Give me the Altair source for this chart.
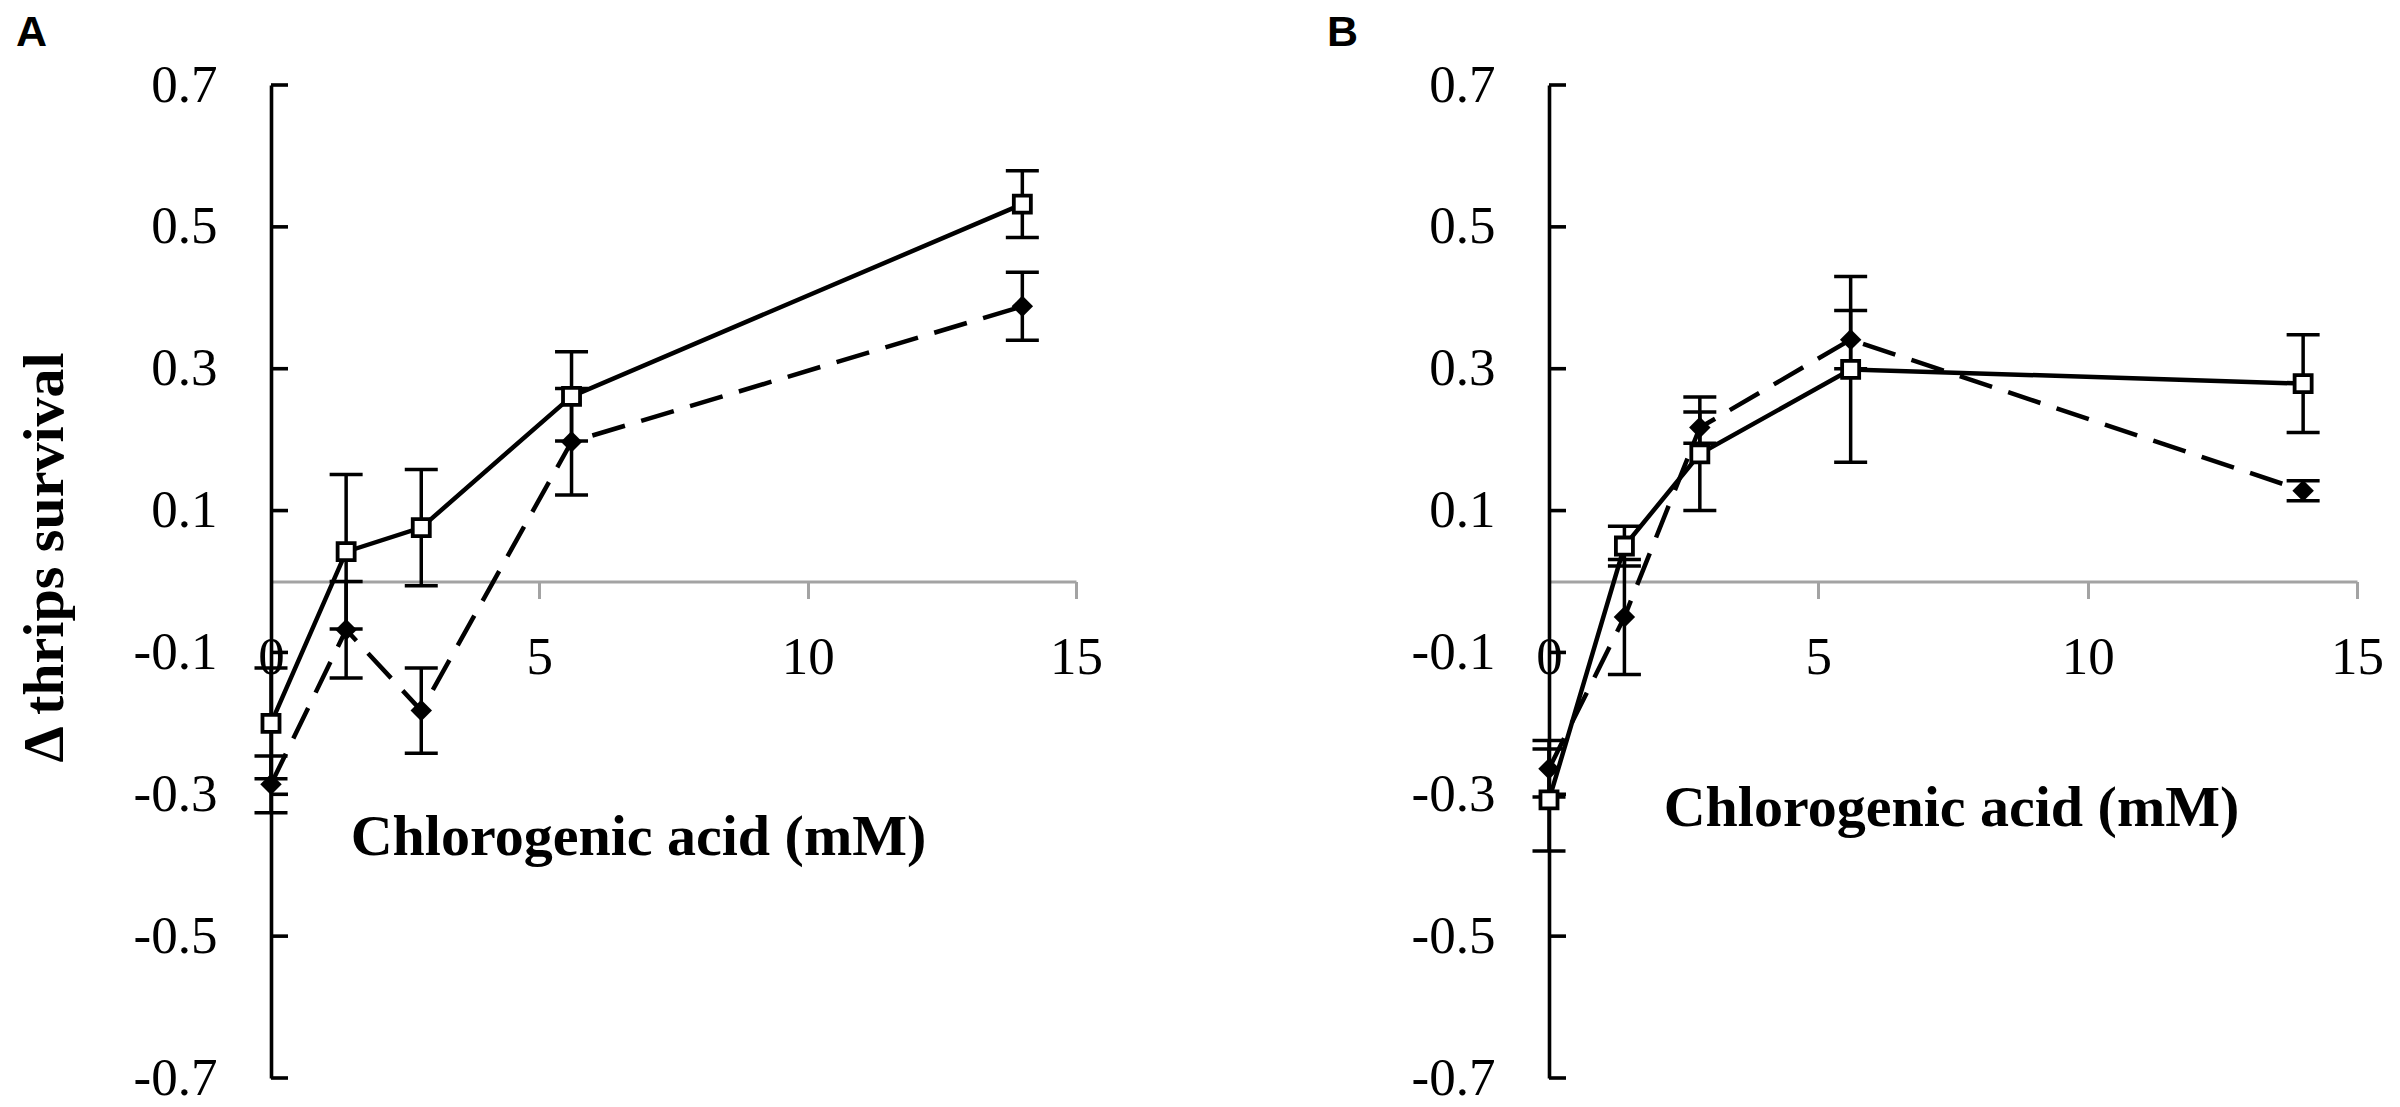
import altair as alt
import pandas as pd

# ---- data ----
conc = [0, 1.4, 2.8, 5.6, 14]

a_open = [-0.200, 0.042, 0.076, 0.261, 0.532]
a_open_err = [0.078, 0.109, 0.082, 0.063, 0.047]
a_filled = [-0.286, -0.068, -0.182, 0.197, 0.388]
a_filled_err = [0.040, 0.068, 0.060, 0.075, 0.048]

b_open = [-0.308, 0.050, 0.180, 0.299, 0.279]
b_open_err = [0.072, 0.028, 0.080, 0.131, 0.069]
b_filled = [-0.264, -0.050, 0.217, 0.341, 0.128]
b_filled_err = [0.040, 0.081, 0.022, 0.041, 0.014]

y_ticks = [-0.7, -0.5, -0.3, -0.1, 0.1, 0.3, 0.5, 0.7]
x_ticks = [0, 5, 10, 15]
x_title = "Chlorogenic acid (mM)"
y_title = "\u0394 thrips survival"
panel_labels = ["A", "B"]

SERIF = "Liberation Serif"
SANS = "Liberation Sans"
H = 993
GRAY = "#a3a3a3"


def make_df(ov, oe, fv, fe):
    rows = []
    for x, v, e in zip(conc, ov, oe):
        rows.append({"conc": x, "value": v, "lo": v - e, "hi": v + e, "series": "open"})
    for x, v, e in zip(conc, fv, fe):
        rows.append({"conc": x, "value": v, "lo": v - e, "hi": v + e, "series": "filled"})
    return pd.DataFrame(rows)


def panel(df, width, label, label_dx, xt_x, xt_y, ytitle):
    yscale = alt.Scale(domain=[-0.7, 0.7], nice=False, zero=False)
    xscale = alt.Scale(domain=[0, 15], nice=False, zero=False)
    yaxis_kw = dict(
        values=y_ticks, ticks=False, grid=False,
        domainColor="black", domainWidth=3.6,
        labelFont=SERIF, labelFontSize=53, labelColor="black",
        labelPadding=54, labelFlush=False, labelOverlap=False,
        labelExpr="(datum.value < 0 ? '-' : '') + format(abs(datum.value), '.1f')",
    )
    if ytitle:
        yaxis_kw.update(
            title=y_title, titleFont=SERIF, titleFontSize=58, titleFontWeight="bold",
            titleColor="black", titleX=-226, titleY=472, titleAngle=270,
            titleAlign="center", titleBaseline="middle",
        )
    else:
        yaxis_kw.update(title=None)
    yaxis = alt.Axis(**yaxis_kw)
    xaxis = alt.Axis(
        values=x_ticks, grid=False, offset=-H / 2,
        domainColor=GRAY, domainWidth=3,
        tickColor=GRAY, tickWidth=3, tickSize=17,
        labelFont=SERIF, labelFontSize=53, labelColor="black",
        labelPadding=33, labelFlush=False, labelOverlap=False,
        title=x_title, titleFont=SERIF, titleFontSize=58, titleFontWeight="bold",
        titleColor="black", titleX=xt_x, titleY=xt_y,
        titleAlign="center", titleBaseline="alphabetic",
    )
    X = alt.X("conc:Q", scale=xscale, axis=xaxis)

    tick_df = pd.DataFrame({"t": y_ticks})
    yticks = alt.Chart(tick_df).mark_rule(color="black", strokeWidth=3.6).encode(
        x=alt.value(0), x2=alt.value(17),
        y=alt.Y("t:Q", scale=yscale, axis=yaxis),
    )
    base = alt.Chart(df)
    err = base.mark_rule(color="black", strokeWidth=3.5).encode(
        x=X, y=alt.Y("lo:Q", scale=yscale, axis=yaxis), y2="hi:Q"
    )
    cap_lo = base.mark_tick(orient="horizontal", size=33, thickness=3.5, color="black", opacity=1).encode(
        x=X, y=alt.Y("lo:Q", scale=yscale, axis=yaxis)
    )
    cap_hi = base.mark_tick(orient="horizontal", size=33, thickness=3.5, color="black", opacity=1).encode(
        x=X, y=alt.Y("hi:Q", scale=yscale, axis=yaxis)
    )
    line_f = base.transform_filter("datum.series == 'filled'").mark_line(
        color="black", strokeWidth=4.5, strokeDash=[34, 17]
    ).encode(x=X, y=alt.Y("value:Q", scale=yscale, axis=yaxis))
    line_o = base.transform_filter("datum.series == 'open'").mark_line(
        color="black", strokeWidth=4.5
    ).encode(x=X, y=alt.Y("value:Q", scale=yscale, axis=yaxis))
    pts_f = base.transform_filter("datum.series == 'filled'").mark_point(
        shape="diamond", filled=True, color="black", size=460, opacity=1
    ).encode(x=X, y=alt.Y("value:Q", scale=yscale, axis=yaxis))
    pts_o = base.transform_filter("datum.series == 'open'").mark_point(
        shape="square", filled=False, fill="white", fillOpacity=1, stroke="black",
        strokeWidth=3.8, size=290, opacity=1
    ).encode(x=X, y=alt.Y("value:Q", scale=yscale, axis=yaxis))

    return alt.layer(yticks, err, cap_lo, cap_hi, line_f, line_o, pts_f, pts_o).properties(
        width=width, height=H,
        title=alt.TitleParams(
            label, anchor="start", frame="bounds", font=SANS, fontSize=43,
            fontWeight="bold", color="black", baseline="alphabetic",
            offset=-30, dx=label_dx,
        ),
    )


df_a = make_df(a_open, a_open_err, a_filled, a_filled_err)
df_b = make_df(b_open, b_open_err, b_filled, b_filled_err)

pa = panel(df_a, 805, panel_labels[0], 0, 367, 273, True)
pb = panel(df_b, 808, panel_labels[1], -84, 402, 244, False)

chart = alt.hconcat(pa, pb, spacing=224).properties(
    padding={"left": 8, "top": 4, "right": 0, "bottom": 0},
    background="white",
).configure_view(stroke=None)

chart.save("out.html", embed_options={"renderer": "svg", "actions": False})
